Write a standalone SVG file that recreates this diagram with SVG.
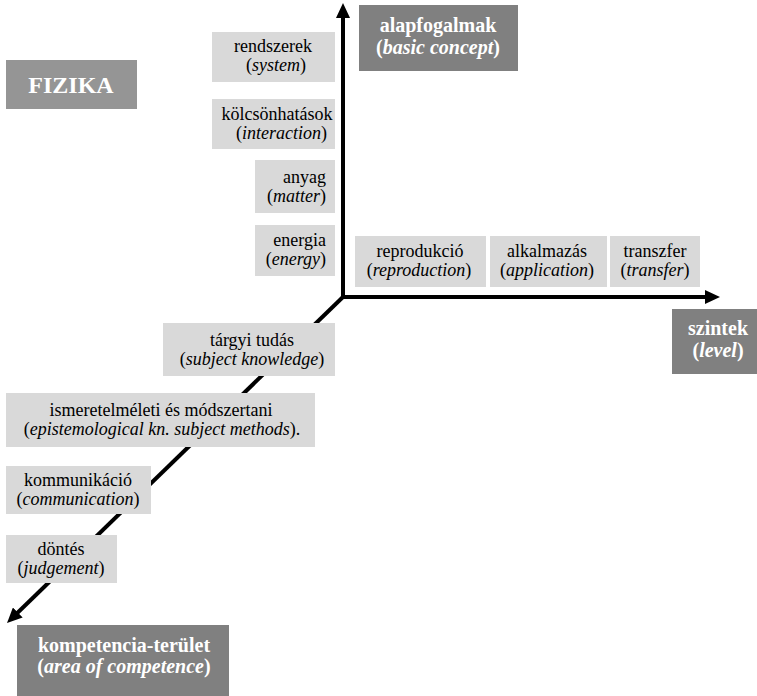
<svg xmlns="http://www.w3.org/2000/svg" width="757" height="696" viewBox="0 0 757 696" font-family="'Liberation Serif', 'Times New Roman', serif">
  <style>
    .lbox { fill: #d9d9d9; }
    .dbox { fill: #808080; }
    .ltxt { font-family: 'Liberation Serif', 'Times New Roman', serif; font-size: 18px; fill: #000000; }
    .wtxt { font-family: 'Liberation Serif', 'Times New Roman', serif; font-size: 20px; font-weight: bold; fill: #ffffff; }
    .ital { font-style: italic; }
    .axis { stroke: #000000; stroke-width: 4; fill: none; }
  </style>
  <defs>
    <marker id="ah" markerUnits="userSpaceOnUse" markerWidth="16" markerHeight="14" refX="5" refY="7" orient="auto">
      <path d="M0,0 L15,7 L0,14 z" fill="#000000"/>
    </marker>
  </defs>
  <rect width="757" height="696" fill="#ffffff"/>

  <g id="connectors">
    <line class="axis" x1="343" y1="297" x2="343" y2="13" marker-end="url(#ah)"/>
    <line class="axis" x1="341" y1="297" x2="710" y2="297" marker-end="url(#ah)"/>
    <line class="axis" x1="344" y1="296" x2="14.2" y2="616" marker-end="url(#ah)"/>
  </g>

  <g id="fizika">
    <rect x="6" y="60" width="131" height="49" fill="#959595"/>
    <text class="wtxt" x="71" y="93" text-anchor="middle" style="font-size:24px">FIZIKA</text>
  </g>

  <g id="alapfogalmak">
    <rect class="dbox" x="359" y="5" width="159" height="66"/>
    <text class="wtxt" x="438" y="32" text-anchor="middle">alapfogalmak</text>
    <text class="wtxt" x="438" y="54" text-anchor="middle">(<tspan class="ital">basic concept</tspan>)</text>
  </g>

  <g id="szintek">
    <rect class="dbox" x="672" y="309" width="92" height="65"/>
    <text class="wtxt" x="718" y="335" text-anchor="middle">szintek</text>
    <text class="wtxt" x="718" y="357" text-anchor="middle">(<tspan class="ital">level</tspan>)</text>
  </g>

  <g id="kompetencia">
    <rect class="dbox" x="17" y="625" width="212" height="75"/>
    <text class="wtxt" x="124" y="652" text-anchor="middle">kompetencia-terület</text>
    <text class="wtxt" x="124" y="673" text-anchor="middle">(<tspan class="ital">area of competence</tspan>)</text>
  </g>

  <g id="rendszerek">
    <rect class="lbox" x="212" y="32" width="123" height="50"/>
    <text class="ltxt" x="273" y="52" text-anchor="middle">rendszerek</text>
    <text class="ltxt" x="276" y="71" text-anchor="middle">(<tspan class="ital">system</tspan>)</text>
  </g>

  <g id="kolcsonhatasok">
    <rect class="lbox" x="212" y="99" width="123" height="50"/>
    <text class="ltxt" x="277" y="120" text-anchor="middle">kölcsönhatások</text>
    <text class="ltxt" x="327" y="139" text-anchor="end">(<tspan class="ital">interaction</tspan>)</text>
  </g>

  <g id="anyag">
    <rect class="lbox" x="255" y="160" width="80" height="53"/>
    <text class="ltxt" x="326" y="183" text-anchor="end">anyag</text>
    <text class="ltxt" x="326" y="202" text-anchor="end">(<tspan class="ital">matter</tspan>)</text>
  </g>

  <g id="energia">
    <rect class="lbox" x="255" y="225" width="80" height="51"/>
    <text class="ltxt" x="326" y="246" text-anchor="end">energia</text>
    <text class="ltxt" x="326" y="265" text-anchor="end">(<tspan class="ital">energy</tspan>)</text>
  </g>

  <g id="reprodukcio">
    <rect class="lbox" x="355" y="236" width="131" height="51"/>
    <text class="ltxt" x="420" y="257" text-anchor="middle">reprodukció</text>
    <text class="ltxt" x="419" y="276" text-anchor="middle">(<tspan class="ital">reproduction</tspan>)</text>
  </g>

  <g id="alkalmazas">
    <rect class="lbox" x="490" y="236" width="117" height="51"/>
    <text class="ltxt" x="547" y="257" text-anchor="middle">alkalmazás</text>
    <text class="ltxt" x="547" y="276" text-anchor="middle">(<tspan class="ital">application</tspan>)</text>
  </g>

  <g id="transzfer">
    <rect class="lbox" x="610" y="236" width="90" height="51"/>
    <text class="ltxt" x="655" y="257" text-anchor="middle">transzfer</text>
    <text class="ltxt" x="655" y="276" text-anchor="middle">(<tspan class="ital">transfer</tspan>)</text>
  </g>

  <g id="targyi-tudas">
    <rect class="lbox" x="163" y="323" width="172" height="53"/>
    <text class="ltxt" x="252" y="346" text-anchor="middle">tárgyi tudás</text>
    <text class="ltxt" x="252" y="365" text-anchor="middle">(<tspan class="ital">subject knowledge</tspan>)</text>
  </g>

  <g id="ismeretelmeleti">
    <rect class="lbox" x="6" y="393" width="309" height="54"/>
    <text class="ltxt" x="161" y="416" text-anchor="middle">ismeretelméleti és módszertani</text>
    <text class="ltxt" x="162" y="435" text-anchor="middle">(<tspan class="ital">epistemological kn. subject methods</tspan>).</text>
  </g>

  <g id="kommunikacio">
    <rect class="lbox" x="6" y="466" width="145" height="48"/>
    <text class="ltxt" x="78" y="486" text-anchor="middle">kommunikáció</text>
    <text class="ltxt" x="78" y="505" text-anchor="middle">(<tspan class="ital">communication</tspan>)</text>
  </g>

  <g id="dontes">
    <rect class="lbox" x="6" y="535" width="111" height="48"/>
    <text class="ltxt" x="61" y="555" text-anchor="middle">döntés</text>
    <text class="ltxt" x="61" y="574" text-anchor="middle">(<tspan class="ital">judgement</tspan>)</text>
  </g>
</svg>
